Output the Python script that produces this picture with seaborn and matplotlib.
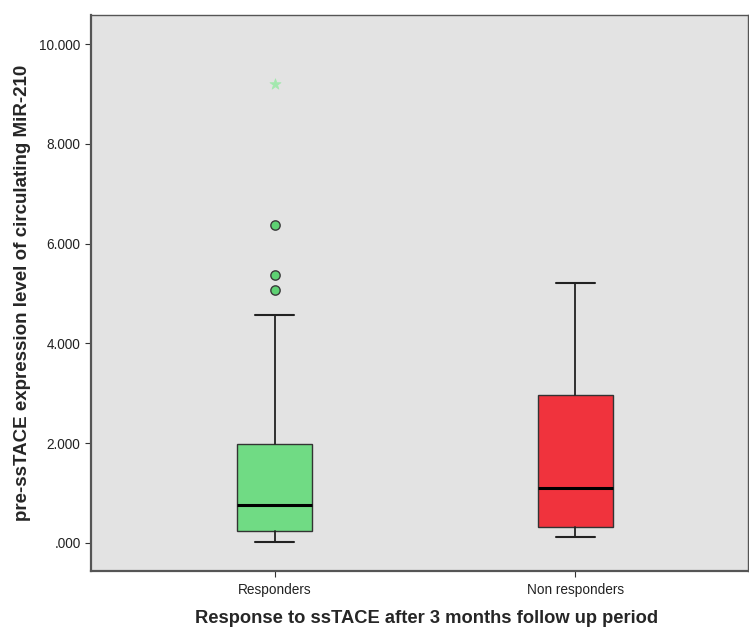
import numpy as np
import pandas as pd
import seaborn as sns
import matplotlib.pyplot as plt

sns.set_theme(style='white')
plt.rcParams['font.family'] = ['Liberation Sans', 'DejaVu Sans']

# summary values
groups = ['Responders', 'Non responders']
whislo = [0.02, 0.12]
q1 = [0.24, 0.32]
med = [0.76, 1.10]
q3 = [1.98, 2.97]
whishi = [4.57, 5.21]
box_colors = ['#70DB84', '#F0333D']

# outliers (circles) and extremes (stars), responders group only
outlier_group = ['Responders', 'Responders', 'Responders']
outlier_vals = [6.37, 5.37, 5.07]
extreme_group = ['Responders']
extreme_vals = [9.20]

fig = plt.figure(figsize=(7.49, 6.28), dpi=100)
ax = fig.add_axes([0.1215, 0.091, 0.8775, 0.885])
ax.set_facecolor('#E3E3E3')

stats = []
for i, g in enumerate(groups):
    stats.append({'label': g, 'whislo': whislo[i], 'q1': q1[i], 'med': med[i],
                  'q3': q3[i], 'whishi': whishi[i], 'fliers': []})

bp = ax.bxp(stats, positions=range(len(groups)), widths=0.25, patch_artist=True,
            showfliers=False,
            boxprops=dict(edgecolor='#333333', linewidth=1.0),
            medianprops=dict(color='black', linewidth=2.2),
            whiskerprops=dict(color='#222222', linewidth=1.3),
            capprops=dict(color='#222222', linewidth=1.5),
            capwidths=0.13)
for patch, c in zip(bp['boxes'], box_colors):
    patch.set_facecolor(c)

pos = {g: i for i, g in enumerate(groups)}
out_df = pd.DataFrame({'x': [pos[g] for g in outlier_group], 'y': outlier_vals})
ext_df = pd.DataFrame({'x': [pos[g] for g in extreme_group], 'y': extreme_vals})
sns.scatterplot(data=out_df, x='x', y='y', ax=ax, marker='o', s=45,
                color='#5ED173', edgecolor='#3A3A3A', linewidth=1.0, zorder=5)
sns.scatterplot(data=ext_df, x='x', y='y', ax=ax, marker='*', s=70,
                color='#A3E8AE', edgecolor='#A3E8AE', linewidth=0.5, zorder=5)

ax.set_xlim(-0.613, 1.577)
ax.set_ylim(-0.56, 10.58)
ax.set_xticks(range(len(groups)))
ax.set_xticklabels(groups)
yt = [0, 2, 4, 6, 8, 10]
ax.set_yticks(yt)
ax.set_yticklabels(['.000', '2.000', '4.000', '6.000', '8.000', '10.000'])
ax.tick_params(axis='both', labelsize=9.8, length=4, width=0.8, color='#333333',
               direction='out', left=True, bottom=True, labelcolor='#222222')
ax.tick_params(axis='x', pad=5)
for s in ax.spines.values():
    s.set_color('#555555')
    s.set_linewidth(1.0)
ax.spines['bottom'].set_linewidth(1.6)
ax.spines['left'].set_linewidth(1.6)

ax.set_xlabel('Response to ssTACE after 3 months follow up period',
              fontsize=13.2, fontweight='bold', labelpad=9)
ax.xaxis.label.set_x(0.51)
ax.set_ylabel('pre-ssTACE expression level of circulating MiR-210',
              fontsize=13.5, fontweight='bold', labelpad=6)

fig.savefig('out.png', dpi=100)
